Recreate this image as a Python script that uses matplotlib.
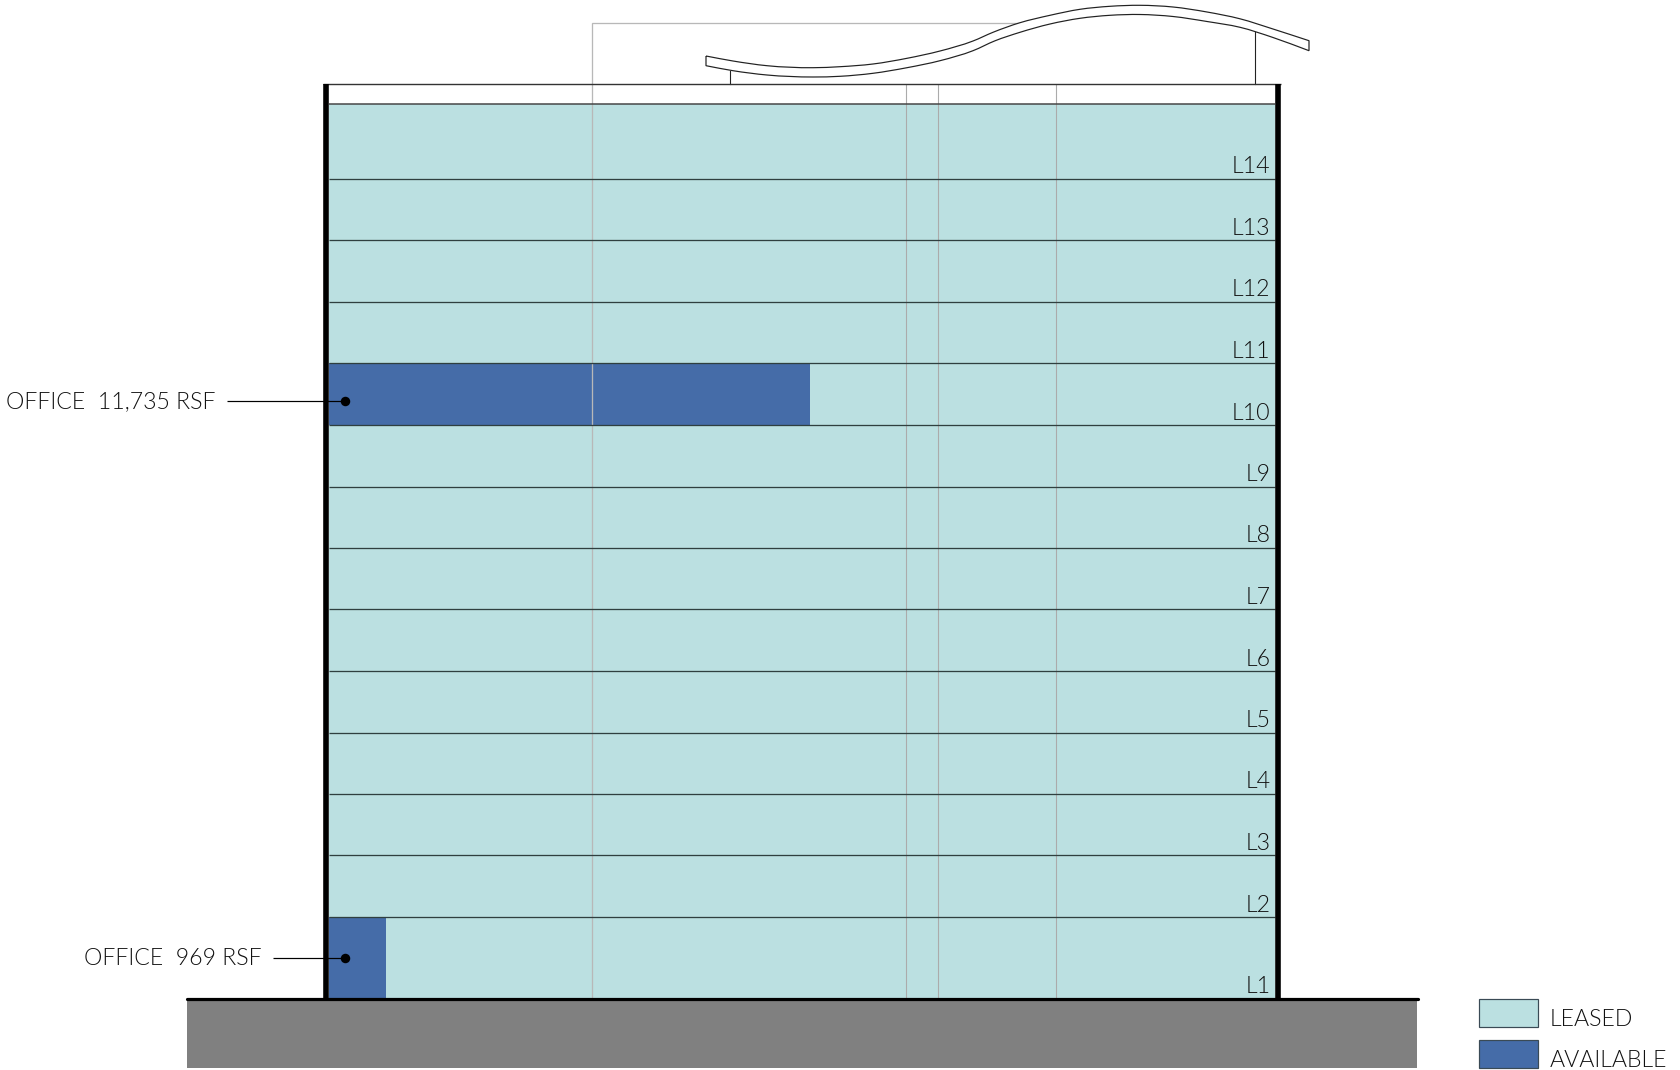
import matplotlib
matplotlib.use("Agg")
import matplotlib.pyplot as plt
import numpy as np
from matplotlib import font_manager as fm
from matplotlib.path import Path
from matplotlib.patches import PathPatch, Rectangle

# floor boundaries, top of L14 down to ground (image pixels)
floor_edges = [103.5, 178.5, 240.1, 301.7, 363.3, 425, 486.5, 547.6, 609.3, 671, 732.5, 793.8, 855.3, 916.8, 998]
floor_labels = ["L14", "L13", "L12", "L11", "L10", "L9", "L8", "L7", "L6", "L5", "L4", "L3", "L2", "L1"]
available_floors = ["L10", "L1"]
available_right = [810, 386]
callout_texts = ["OFFICE  11,735 RSF", "OFFICE  969 RSF"]
callout_text_right = [216, 262]
callout_line_start = [227, 273]
callout_y = [400.7, 958.3]
grey_columns = [906.2, 938, 1056.2]
roof_upper_x = [706, 733, 767, 813, 840, 873, 907, 940, 973, 993, 1020, 1050, 1080, 1110, 1140, 1173, 1207, 1240, 1273, 1309]
roof_upper_y = [56, 61, 65.7, 67.7, 66.7, 64, 58.3, 51, 41, 32.3, 22.7, 15.3, 9.3, 6.3, 5.3, 7, 12, 18.8, 29, 40.7]
roof_lower_x = [706, 733, 767, 813, 840, 873, 907, 940, 973, 995, 1020, 1050, 1080, 1110, 1140, 1173, 1207, 1240, 1273, 1309]
roof_lower_y = [65.7, 70.7, 75, 77, 76.3, 73.3, 67.7, 60.7, 50.7, 40.8, 32.3, 24, 18.3, 15.3, 14.5, 16.5, 21.5, 27.3, 37.5, 50.7]
legend_labels = ["LEASED", "AVAILABLE"]

LEASED = "#BBE0E1"
AVAIL = "#456CA8"
GROUND = "#808080"
GREY = "#ABABAB"
px = 0.72
FS = 16.7

light = [f for f in fm.findSystemFonts() if f.endswith("Lato-Light.ttf")]
prop = fm.FontProperties(fname=light[0]) if light else fm.FontProperties(family="Lato")
prop.set_size(FS)
font = dict(fontproperties=prop, color="#111111")

WALL_L, WALL_R = 326, 1278
IN_L, IN_R = 329, 1275
TOP = 84

fig = plt.figure(figsize=(16.8, 10.7), dpi=100, facecolor="white")
ax = fig.add_axes([0, 0, 1, 1])
ax.set_xlim(0, 1680)
ax.set_ylim(1070, 0)
ax.axis("off")


def smooth(xs, ys):
    pts = np.column_stack([xs, ys]).astype(float)
    t = np.concatenate([[0], np.cumsum(np.hypot(*np.diff(pts, axis=0).T))])
    tan = np.gradient(pts, t, axis=0)
    verts, codes = [pts[0]], [Path.MOVETO]
    for i in range(len(pts) - 1):
        dt = t[i + 1] - t[i]
        verts += [pts[i] + tan[i] * dt / 3, pts[i + 1] - tan[i + 1] * dt / 3, pts[i + 1]]
        codes += [Path.CURVE4] * 3
    return verts, codes


# floors
tops = np.array(floor_edges[:-1])
heights = np.diff(floor_edges)
ax.barh(tops, IN_R - IN_L, height=heights, left=IN_L, align="edge", color=LEASED, lw=0, zorder=1)
for name, right in zip(available_floors, available_right):
    i = floor_labels.index(name)
    ax.barh(tops[i], right - IN_L, height=heights[i], left=IN_L, align="edge", color=AVAIL, lw=0, zorder=2)

# ground
ax.add_patch(Rectangle((187, 998), 1230, 70, fc=GROUND, ec="none", zorder=1))

# thin grey verticals and frame
for x in grey_columns:
    ax.plot([x, x], [TOP, 998], color=GREY, lw=1.1 * px, zorder=3, solid_capstyle="butt")
ax.plot([592, 592, 1024], [998, 22.7, 22.7], color="#B8B8B8", lw=1.3 * px, zorder=3, solid_joinstyle="miter")

# floor lines
for y in floor_edges[1:-1]:
    ax.plot([IN_L, IN_R], [y, y], color="#2f3f3f", lw=1.3 * px, zorder=4, solid_capstyle="butt")
ax.plot([IN_L, IN_R], [floor_edges[0]] * 2, color="#444444", lw=1.5 * px, zorder=4, solid_capstyle="butt")
ax.plot([WALL_L - 3, WALL_R + 3], [TOP, TOP], color="#333333", lw=1.4 * px, zorder=4, solid_capstyle="butt")

# walls and ground line
for x in (WALL_L, WALL_R):
    ax.plot([x, x], [TOP, 998], color="black", lw=5.6 * px, zorder=5, solid_capstyle="butt")
ax.plot([187, 1418], [998.5, 998.5], color="black", lw=3.2 * px, zorder=6, solid_capstyle="round")

# roof
uv, uc = smooth(roof_upper_x, roof_upper_y)
lv, lc = smooth(roof_lower_x[::-1], roof_lower_y[::-1])
verts = uv + [lv[0]] + lv[1:] + [uv[0]]
codes = uc + [Path.LINETO] + lc[1:] + [Path.LINETO]
ax.add_patch(PathPatch(Path(verts, codes), fc="white", ec="#222222", lw=1.2 * px, zorder=4))
ax.plot([729.5, 729.5], [71, TOP], color="#222222", lw=1.1 * px, zorder=3)
ax.plot([1255.3, 1255.3], [31, TOP], color="#222222", lw=1.1 * px, zorder=3)

# floor labels
for name, bottom in zip(floor_labels, floor_edges[1:]):
    ax.text(1270.5, bottom - 5.3, name, ha="right", va="baseline", zorder=7, **font)

# callouts
for txt, xr, x0, y in zip(callout_texts, callout_text_right, callout_line_start, callout_y):
    ax.text(xr, y + 0.5, txt, ha="right", va="center", zorder=7, **font)
    ax.plot([x0, 345], [y, y], color="black", lw=1.2 * px, zorder=7, solid_capstyle="butt")
    ax.plot([345], [y], "o", color="black", ms=9.5 * px, mew=0, zorder=8)

# legend
for lab, fc, y0, h, yt in zip(legend_labels, [LEASED, AVAIL], [998.5, 1039.5], [28.5, 28], [1019, 1060.5]):
    ax.add_patch(Rectangle((1478.5, y0), 59.5, h, fc=fc, ec="#3a4a55", lw=1.2 * px, zorder=3))
    ax.text(1550, yt, lab, ha="left", va="center", zorder=7, **font)

fig.savefig("out.png", dpi=100, facecolor="white")
